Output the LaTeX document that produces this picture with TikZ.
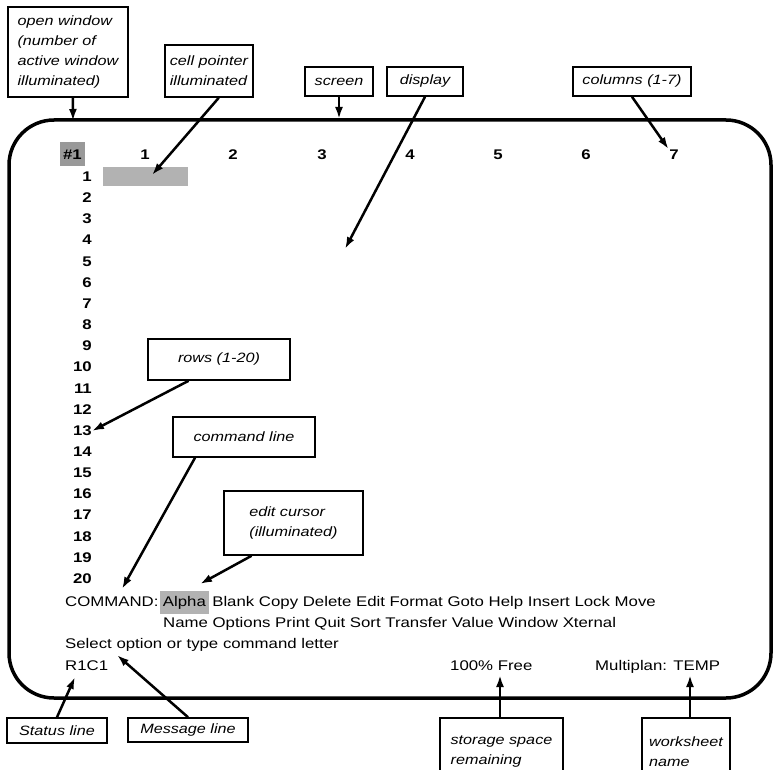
\documentclass[tikz,border=0pt]{standalone}
\usepackage{fontspec}
\usepackage{tikz}
\usetikzlibrary{positioning, arrows.meta}
\newfontfamily\scrfont[FakeStretch=1.2]{Liberation Sans}
\newfontfamily\lblfont[FakeStretch=1.2]{Liberation Sans}

\begin{document}
\begin{tikzpicture}[x=1pt, y=-1pt,
	scr/.style={font=\scrfont\fontsize{14}{21}\selectfont, inner sep=0pt},
	num/.style={font=\scrfont\bfseries\fontsize{14}{21}\selectfont, inner sep=0pt},
	lbl/.style={draw, line width=1.6pt, font=\lblfont\itshape\fontsize{13.5}{20}\selectfont, inner sep=0pt, align=left},
	pnt/.style={->, >={Latex[length=12pt, width=8pt]}, line width=2.5pt}]
	\useasboundingbox (0,0) rectangle (776,770);
	\clip (0,0) rectangle (776,770);

	% the screen
	\draw[line width=3.5pt, rounded corners=45pt] (9,120) rectangle (771,698);

	% column headers
	\node[num, fill=black!40, minimum width=25pt, minimum height=24pt] (win) at (72.5,154.5) {\#1};
	\node[num] (c1) at (145,155) {1};
	\node[num] (c2) at (233,155) {2};
	\node[num] (c3) at (322,155) {3};
	\node[num] (c4) at (410,155) {4};
	\node[num] (c5) at (498,155) {5};
	\node[num] (c6) at (586,155) {6};
	\node[num] (c7) at (674,155) {7};

	% row numbers
	\node[num, anchor=east] (r1) at (92,177) {1};
	\node[num, anchor=east] (r2) at (92,198) {2};
	\node[num, anchor=east] (r3) at (92,219) {3};
	\node[num, anchor=east] (r4) at (92,240) {4};
	\node[num, anchor=east] (r5) at (92,262) {5};
	\node[num, anchor=east] (r6) at (92,283) {6};
	\node[num, anchor=east] (r7) at (92,304) {7};
	\node[num, anchor=east] (r8) at (92,325) {8};
	\node[num, anchor=east] (r9) at (92,346) {9};
	\node[num, anchor=east] (r10) at (92,367) {10};
	\node[num, anchor=east] (r11) at (92,389) {11};
	\node[num, anchor=east] (r12) at (92,410) {12};
	\node[num, anchor=east] (r13) at (92,431) {13};
	\node[num, anchor=east] (r14) at (92,452) {14};
	\node[num, anchor=east] (r15) at (92,473) {15};
	\node[num, anchor=east] (r16) at (92,494) {16};
	\node[num, anchor=east] (r17) at (92,515) {17};
	\node[num, anchor=east] (r18) at (92,537) {18};
	\node[num, anchor=east] (r19) at (92,558) {19};
	\node[num, anchor=east] (r20) at (92,579) {20};

	% cell pointer
	\node[fill=black!30, minimum width=85pt, minimum height=19pt, inner sep=0pt] (cell1) at (145.5,176.5) {};

	% command, message and status lines
	\node[scr, anchor=base west] (cmd) at (65,606) {COMMAND:};
	\node[scr, fill=black!30, inner xsep=3pt, inner ysep=5pt, base right=1pt of cmd] (alpha) {Alpha};
	\node[scr, base right=3pt of alpha] (cmd2) {Blank Copy Delete Edit Format Goto Help Insert Lock Move};
	\node[scr, anchor=base west] (cmd3) at (163,627) {Name Options Print Quit Sort Transfer Value Window Xternal};
	\node[scr, anchor=base west] (msg) at (65,648) {Select option or type command letter};
	\node[scr, anchor=base west] (rc) at (65,670) {R1C1};
	\node[scr, anchor=base west] (free) at (450,670) {100\% Free};
	\node[scr, anchor=base west] (name) at (595,670) {Multiplan: TEMP};

	% arrow ends
	\coordinate (openA) at (73,121);
	\coordinate (cellA) at (152,175);
	\coordinate (scrnA) at (339,119);
	\coordinate (dispA) at (345,249);
	\coordinate (cmdA) at (122,589);
	\coordinate (editA) at (200,584);
	\coordinate (statA) at (75,677);
	\coordinate (mesgA) at (117,655);
	\coordinate (storA) at (500,675);
	\coordinate (wkshA) at (690,675);

	% labels
	\node[lbl, minimum width=120pt, minimum height=90pt] (open) at (68,52) {open window\\(number of\\active window\\illuminated)};
	\node[lbl, minimum width=88pt, minimum height=52pt] (cell) at (209,71) {cell pointer\\illuminated};
	\node[lbl, minimum width=68pt, minimum height=29pt] (scrn) at (339,81.5) {screen};
	\node[lbl, minimum width=76pt, minimum height=29pt] (disp) at (425,81.5) {display};
	\node[lbl, minimum width=118pt, minimum height=29pt] (cols) at (632,81.5) {columns (1-7)};
	\node[lbl, minimum width=142pt, minimum height=41pt] (rows) at (219,359.5) {rows (1-20)};
	\node[lbl, minimum width=142pt, minimum height=40pt] (cmdl) at (244,437) {command line};
	\node[lbl, minimum width=139pt, minimum height=64pt] (edit) at (293.5,523) {edit cursor\\(illuminated)};
	\node[lbl, minimum width=100pt, minimum height=25pt] (stat) at (57,730.5) {Status line};
	\node[lbl, minimum width=120pt, minimum height=24pt] (mesg) at (188,730) {Message line};
	\node[lbl, minimum width=123pt, minimum height=67pt] (stor) at (501.5,751.5) {storage space\\remaining};
	\node[lbl, minimum width=88pt, minimum height=67pt] (wksh) at (686,751.5) {worksheet\\name};

	\draw[pnt] (open.-84) -- (openA);
	\draw[pnt] (cell.-70) -- (cellA);
	\draw[pnt] (scrn.south) -- (scrnA);
	\draw[pnt] (disp.south) -- (dispA);
	\draw[pnt, shorten >=1pt] (cols.south) -- (c7.north west);
	\draw[pnt] (rows.-145) -- (r13.east);
	\draw[pnt] (cmdl.-157) -- (cmdA);
	\draw[pnt] (edit.-142) -- (editA);
	\draw[pnt] (stat.north) -- (statA);
	\draw[pnt] (mesg.north) -- (mesgA);
	\draw[pnt] (stor.north -| storA) -- (storA);
	\draw[pnt] (wksh.north -| wkshA) -- (wkshA);
\end{tikzpicture}
\end{document}
